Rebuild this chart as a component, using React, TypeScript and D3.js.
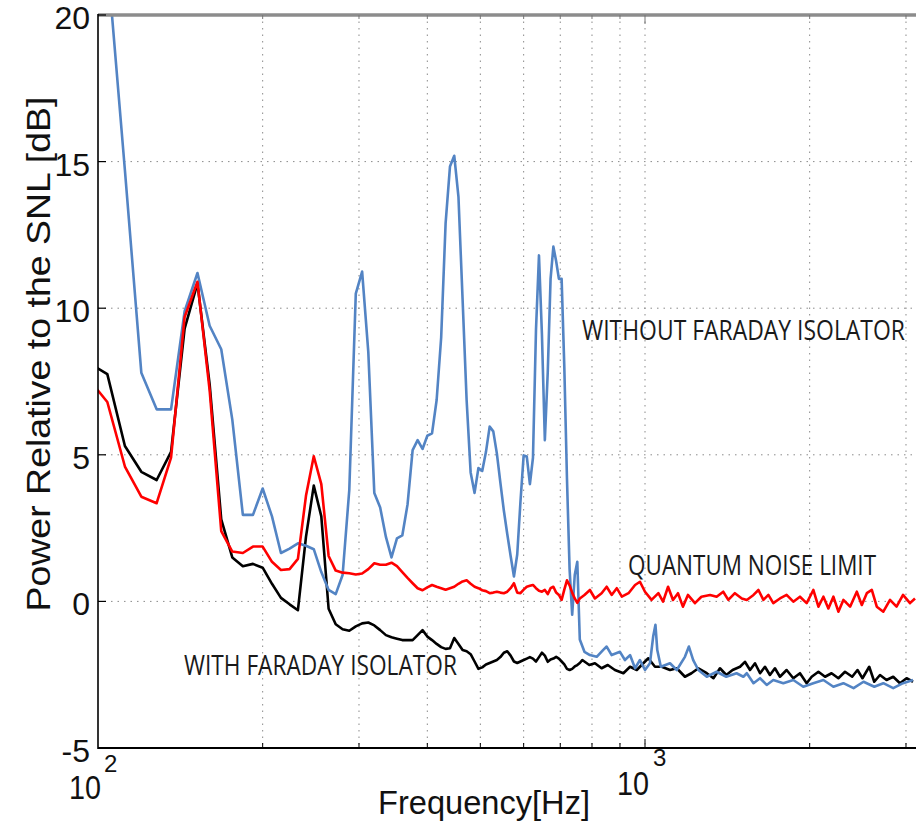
import React from 'react';
import * as d3 from 'd3';

// ---------- data (frequency in Hz, power in dB relative to SNL) ----------
const blueFreq = [96,104,112,120,128,136,144,152,160,168,176,184,192,200,208,216,224,232,240,248,256,264,272,280,288,296,304,312,320,328,336,344,352,360,368,376,384,392,400,408,416,424,432,440,448,456,464,472,480,488,496,504,512,520,528,536,544,552,560,568,576,584,592,600,608,616,624,632,640,648,656,664,672,680,688,696,704,712,720,728,736,744,752,760,
  775,793,816,838,851,869,900,919,939,959,979,1000,1021,1035,1045,1053,1069,1111,1143,1183,1203,1225,1252,1297,1352,1408,1470,1513,1535,1579,1623,1669,1716,1790,1867,1947,2031,2119,2210,2305,2406,2509,2625,2727,2843,2963,3090];
const blueVals = [29.7,21.9,14.7,7.8,6.55,6.55,9.9,11.2,9.4,8.6,6.2,2.95,2.95,3.85,2.9,1.65,1.8,1.98,1.9,1.78,1.0,0.39,0.25,0.9,3.8,10.5,11.25,8.5,3.7,3.2,2.2,1.5,2.15,2.25,3.3,5.16,5.5,5.2,5.65,5.73,6.87,9.0,12.9,14.83,15.2,13.8,10.3,6.85,4.4,3.7,4.55,4.45,5.1,5.96,5.8,5.05,4.05,3.1,2.3,1.55,0.85,1.6,3.4,4.98,4.94,4.0,4.9,9.26,11.8,9.1,5.5,7.8,11.0,12.1,11.6,11.0,11.0,8.0,4.2,1.1,-0.45,0.9,1.35,-1.3,
  -1.72,-1.83,-1.89,-1.66,-1.54,-1.83,-1.72,-2.0,-1.83,-2.28,-2.0,-2.34,-2.11,-1.2,-0.8,-1.66,-2.23,-2.11,-2.34,-1.89,-1.54,-2.0,-2.34,-2.57,-2.4,-2.57,-2.45,-2.57,-2.45,-2.79,-2.62,-2.85,-2.68,-2.79,-2.68,-2.91,-2.79,-2.68,-2.91,-2.79,-2.96,-2.74,-2.91,-2.79,-2.96,-2.79,-2.68];

const redFreq = [96,104,112,120,128,136,144,152,160,168,176,184,192,200,208,216,224,232,240,248,256,264,272,280,288,296,304,312,320,328,336,344,352,360,368,376,384,392,400,408,416,424,432,440,448,456,464,472,480,488,496,504,512,520,528,536,544,552,560,568,576,584,592,600,608,616,624,632,640,648,656,664,672,680,688,696,704,712,720,728,736,744,752,760,
  775,793,810,833,851,869,888,907,933,959,979,1000,1028,1058,1079,1102,1125,1149,1173,1198,1234,1268,1315,1352,1390,1420,1460,1503,1535,1579,1612,1646,1681,1716,1765,1815,1867,1920,1975,2031,2075,2119,2164,2210,2257,2305,2371,2439,2491,2544,2598,2653,2727,2805,2883,2963,3051,3116];
const redVals = [7.6,6.8,4.6,3.57,3.35,4.9,9.7,10.9,7.2,2.4,1.7,1.65,1.87,1.87,1.35,1.07,1.1,1.45,3.6,4.95,4.0,1.55,1.05,0.98,0.96,0.92,0.95,1.1,1.3,1.25,1.25,1.32,1.2,1.0,0.8,0.62,0.45,0.38,0.48,0.56,0.5,0.45,0.4,0.45,0.5,0.6,0.68,0.72,0.6,0.5,0.45,0.38,0.35,0.28,0.3,0.33,0.3,0.28,0.33,0.45,0.62,0.3,0.28,0.4,0.5,0.53,0.56,0.45,0.36,0.33,0.39,0.25,0.45,0.5,0.3,0.22,0.05,0.4,0.72,0.55,0.3,0.1,-0.05,0.1,
  0.22,0.39,0.1,0.28,0.5,0.22,0.45,0.16,0.28,0.56,0.67,0.33,0.05,0.28,-0.01,0.5,0.05,0.28,-0.18,0.22,-0.06,0.16,0.22,0.16,0.33,0.05,0.28,0.1,0.05,0.22,0.39,0.05,0.22,-0.06,0.1,0.22,-0.01,0.16,-0.06,0.39,-0.18,0.16,-0.24,0.16,-0.35,0.05,-0.18,0.33,-0.12,0.28,0.39,-0.18,-0.35,0.05,-0.18,0.22,-0.06,0.1];

const blackFreq = [96,104,112,120,128,136,144,152,160,168,176,184,192,200,208,216,224,232,240,248,256,264,272,280,288,296,304,312,320,328,336,344,352,360,368,376,384,392,400,408,416,424,432,440,448,456,464,472,480,488,496,504,512,520,528,536,544,552,560,568,576,584,592,600,608,616,624,632,640,648,656,664,672,680,688,696,704,712,720,728,736,744,752,760,768,
  791,810,833,855,881,913,939,966,993,1014,1043,1073,1111,1143,1183,1216,1252,1297,1334,1371,1408,1446,1492,1523,1556,1589,1623,1657,1692,1728,1765,1815,1867,1920,1975,2017,2075,2134,2193,2257,2321,2392,2446,2498,2570,2625,2689,2764,2843,2925,3007,3090];
const blackVals = [8.15,7.75,5.3,4.42,4.14,5.1,9.3,10.85,7.4,2.8,1.5,1.2,1.28,1.15,0.6,0.12,-0.1,-0.3,2.2,3.95,2.9,-0.25,-0.78,-0.95,-1.0,-0.85,-0.75,-0.72,-0.82,-0.98,-1.15,-1.22,-1.27,-1.32,-1.32,-1.32,-1.15,-0.98,-1.2,-1.32,-1.45,-1.56,-1.62,-1.6,-1.25,-1.45,-1.66,-1.7,-1.8,-2.05,-2.3,-2.25,-2.15,-2.1,-2.05,-2.0,-1.9,-1.75,-1.7,-1.85,-2.05,-2.1,-2.05,-2.0,-1.95,-1.9,-1.95,-2.05,-1.9,-1.75,-1.85,-2.06,-1.98,-1.95,-1.89,-1.95,-2.05,-2.15,-2.3,-2.34,-2.3,-2.22,-2.17,-2.1,-2.0,
  -2.17,-2.11,-2.28,-2.17,-2.34,-2.45,-2.23,-2.34,-2.11,-1.94,-2.23,-2.23,-2.34,-2.28,-2.57,-2.45,-2.28,-2.45,-2.62,-2.28,-2.51,-2.34,-2.23,-2.06,-2.34,-2.11,-2.45,-2.23,-2.51,-2.28,-2.57,-2.34,-2.62,-2.45,-2.79,-2.57,-2.4,-2.57,-2.45,-2.62,-2.4,-2.57,-2.34,-2.62,-2.23,-2.74,-2.51,-2.68,-2.57,-2.79,-2.62,-2.74];

const yTicks = [-5, 0, 5, 10, 15, 20];
const xGrid = [200, 300, 400, 500, 600, 700, 800, 900, 1000, 2000, 3000];
const xMajor = [100, 1000];
const xMajorExp = ['2', '3'];

const annotations = [
  { text: 'WITHOUT FARADAY ISOLATOR', f: 767, v: 8.92, len: 323 },
  { text: 'QUANTUM NOISE LIMIT', f: 931, v: 0.9, len: 248 },
  { text: 'WITH FARADAY ISOLATOR', f: 143.6, v: -2.51, len: 273 },
];

// ---------- layout ----------
const W = 916, H = 825;
const L = 98, R = 916, T = 15, B = 748;

export default function App() {
  const x = d3.scaleLog().domain([100, 1000]).range([L, 645]);
  const y = d3.scaleLinear().domain([-5, 20]).range([B, T]);
  const line = d3.line<[number, number]>().x(d => x(d[0])).y(d => y(d[1]));
  const zip = (f: number[], v: number[]) => f.map((ff, i) => [ff, v[i]] as [number, number]);
  const series = [
    { d: zip(blackFreq, blackVals), c: '#000000' },
    { d: zip(blueFreq, blueVals), c: '#5384c4' },
    { d: zip(redFreq, redVals), c: '#ff0000' },
  ];
  const font = '"Liberation Sans", Arial, Helvetica, sans-serif';
  const annFont = '"Open Sans", "Noto Sans", sans-serif';
  return (
    <svg width={W} height={H} style={{ position: 'absolute', left: 0, top: 0, background: '#fff' }}>
      <defs>
        <clipPath id="plot"><rect x={L} y={T} width={R - L} height={B - T} /></clipPath>
      </defs>
      <rect x={0} y={0} width={W} height={H} fill="#fff" />
      {/* grid */}
      {xGrid.map(f => (
        <line key={'gx' + f} x1={x(f)} x2={x(f)} y1={T} y2={B} stroke="#8a8a8a" strokeWidth={1} strokeDasharray="1.5,5" />
      ))}
      {yTicks.filter(v => v > -5 && v < 20).map(v => (
        <line key={'gy' + v} x1={L} x2={R} y1={y(v)} y2={y(v)} stroke="#8a8a8a" strokeWidth={1} strokeDasharray="1.5,5" />
      ))}
      {/* series */}
      <g clipPath="url(#plot)">
        {series.map((s, i) => (
          <path key={i} d={line(s.d) || ''} fill="none" stroke={s.c} strokeWidth={2.6} strokeLinejoin="round" />
        ))}
      </g>
      {/* axes */}
      <line x1={L} x2={R} y1={T} y2={T} stroke="#8c8c8c" strokeWidth={3.5} />
      <line x1={L} x2={L} y1={T - 1} y2={B + 1} stroke="#000" strokeWidth={1.6} />
      <line x1={L} x2={R} y1={B} y2={B} stroke="#000" strokeWidth={2} />
      {yTicks.map(v => (
        <line key={'ty' + v} x1={L} x2={L + 8} y1={y(v)} y2={y(v)} stroke="#000" strokeWidth={1.2} />
      ))}
      {xGrid.map(f => {
        const major = f === 1000;
        return (
          <g key={'tx' + f}>
            <line x1={x(f)} x2={x(f)} y1={B} y2={B - (major ? 9 : 5)} stroke="#000" strokeWidth={1} />
            <line x1={x(f)} x2={x(f)} y1={T} y2={T + (major ? 9 : 4)} stroke="#777" strokeWidth={1} />
          </g>
        );
      })}
      {/* y tick labels */}
      {yTicks.map(v => (
        <text key={'ly' + v} x={90} y={y(v) + 14} textAnchor="end" fontFamily={font} fontSize={32} fill="#111">{v}</text>
      ))}
      {/* x tick labels */}
      {xMajor.map((f, i) => (
        <g key={'lx' + f}>
          <text x={x(f) + (i === 0 ? 3 : 4)} y={i === 0 ? 799 : 795} textAnchor="end" fontFamily={font} fontSize={34} textLength={32} lengthAdjust="spacingAndGlyphs" fill="#111">10</text>
          <text x={x(f) + (i === 0 ? 6 : 8)} y={i === 0 ? 772 : 766} fontFamily={font} fontSize={24} fill="#111">{xMajorExp[i]}</text>
        </g>
      ))}
      <text x={484} y={814} textAnchor="middle" fontFamily={font} fontSize={34} textLength={212} lengthAdjust="spacingAndGlyphs" fill="#111">Frequency[Hz]</text>
      <text transform={`translate(50,${354}) rotate(-90)`} textAnchor="middle" fontFamily={font} fontSize={34} textLength={515} lengthAdjust="spacingAndGlyphs" fill="#111">Power Relative to the SNL [dB]</text>
      {/* annotations */}
      {annotations.map(a => (
        <text key={a.text} transform={`translate(${x(a.f)},${y(a.v)}) scale(1,1.35)`} x={0} y={0} fontFamily={annFont} fontSize={20} textLength={a.len} lengthAdjust="spacingAndGlyphs" fill="#1a1a1a">{a.text}</text>
      ))}
    </svg>
  );
}
